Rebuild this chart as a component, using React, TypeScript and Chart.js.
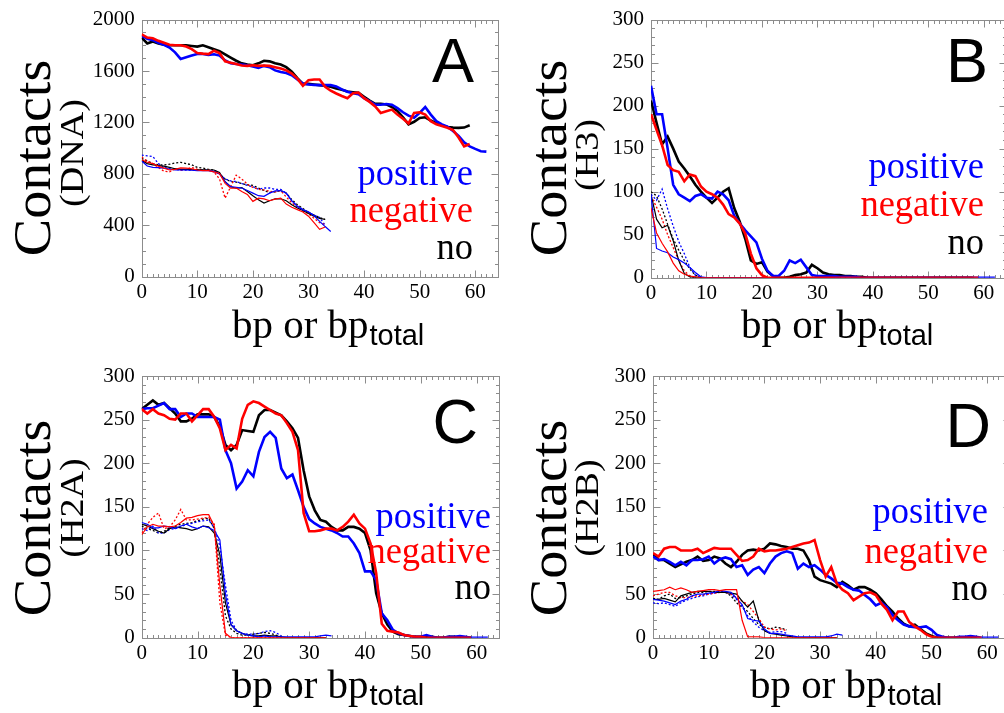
import React, { useEffect, useRef } from "react";
import { Chart, registerables } from "chart.js";

Chart.register(...registerables);

// ---------- tick labels / texts ----------
const BP_TICKS = [0, 10, 20, 30, 40, 50, 60];
const DNA_TICKS = [0, 400, 800, 1200, 1600, 2000];
const HISTONE_TICKS = [0, 50, 100, 150, 200, 250, 300];
const LEGEND_LABELS = ["positive", "negative", "no"];
const PANEL_LETTERS = ["A", "B", "C", "D"];
const Y_SUBTITLES = ["(DNA)", "(H3)", "(H2A)", "(H2B)"];
const Y_TITLE = "Contacts";
const X_TITLE = "bp or bp";
const X_TITLE_SUB = "total";

// ---------- Panel A (DNA) ----------
const A_BLACK = [1860,1815,1830,1815,1805,1800,1800,1800,1800,1795,1790,1800,1785,1770,1755,1730,1705,1680,1660,1650,1645,1660,1680,1675,1660,1650,1630,1595,1545,1500,1500,1495,1490,1485,1478,1465,1455,1440,1435,1430,1400,1370,1345,1345,1340,1320,1290,1240,1185,1205,1235,1240,1215,1195,1178,1165,1160,1158,1160,1178];
const A_RED = [1885,1860,1855,1835,1820,1805,1800,1800,1790,1770,1740,1735,1732,1758,1740,1676,1665,1655,1643,1640,1645,1640,1643,1640,1630,1620,1605,1580,1541,1485,1529,1534,1534,1478,1447,1425,1406,1389,1427,1432,1389,1360,1325,1274,1287,1300,1261,1228,1192,1274,1279,1261,1210,1185,1172,1159,1141,1083,1014,1032];
const A_BLUE = [1873,1850,1840,1820,1804,1783,1745,1694,1707,1720,1732,1732,1725,1730,1720,1682,1661,1655,1651,1645,1636,1625,1640,1630,1605,1592,1585,1567,1534,1503,1495,1492,1490,1490,1490,1480,1457,1439,1427,1420,1389,1363,1338,1338,1343,1338,1312,1279,1253,1236,1274,1320,1261,1210,1185,1167,1134,1096,1045,1014,994,976,973];
const A_BLACK_THIN = [904,880,870,865,860,850,840,835,835,833,832,832,830,830,810,739,700,688,693,662,629,599,573,591,606,606,591,560,535,515,492,471,453,446];
const A_RED_THIN = [910,890,880,860,845,830,835,846,845,840,830,825,825,815,803,726,688,690,662,640,586,611,605,591,604,611,565,540,522,504,471,420,369,387];
const A_BLUE_THIN = [900,861,850,848,845,838,830,830,830,828,825,825,825,820,800,740,700,695,690,670,650,630,625,650,667,670,650,590,545,520,505,475,430,390,352];
const A_BLACK_DOT = [920,900,880,870,870,875,885,890,880,870,850,845,835,830,800,760,740,735,725,715,710,690,670,655,660,670,650,600,560,530,500,480,460,445];
const A_RED_DOT = [930,900,880,850,820,815,840,830,835,850,835,830,830,815,760,611,700,790,760,720,695,680,675,665,660,670,620,575,540,510,490,455,420,405];
const A_BLUE_DOT = [945,940,935,880,850,840,835,830,830,830,830,830,830,815,800,760,745,740,725,710,700,680,690,690,680,680,650,590,550,525,500,480,460,400];

// ---------- Panel B (H3) ----------
const B_BLACK = [206,180,155,164,150,135,127,118,108,100,93,87,93,100,104,81,65,45,20,16,18,7,2,0,0,1,3,4,6,15,11,6,4,3,3,2,2,1,1,0,0,0,0,0,0,0,0,0,0,0,0,0,0,0,0,0,0,0,0];
const B_RED = [190,172,154,131,125,123,112,120,118,106,100,97,93,85,74,70,63,51,28,11,3,0,0,0,0,0,0,0,0,0,0,0,0,0,0,0,0,0,0,0,0,0,0,0,0,0,0,0,0,0,0,0,0,0,0,0,0,0,0,0];
const B_BLUE = [223,190,190,150,108,97,93,89,95,97,93,92,100,97,90,72,63,55,48,41,22,8,2,2,8,20,17,21,12,3,2,2,2,2,1,1,1,1,0,0,0,0,0,0,0,0,0,0,0,0,0,0,0,0,0,0,0,0,0,0,0,0,0];
const B_BLACK_THIN = [97,68,58,61,43,20,5,1,0,0,0,0,0,0,0,0,0,0,0,0,0,0,0,0,0,0,0,0,0,0,0,0,0,0];
const B_RED_THIN = [81,52,40,30,17,8,4,2,1,0,0,0,0,0,0,0,0,0,0,0,0,0,0,0,0,0,0,0,0,0,0,0,0,0];
const B_BLUE_THIN = [97,34,31,29,24,21,17,12,6,1,0,0,0,0,0,0,0,0,0,0,0,0,0,0,0,0,0,0,0,0,0,0,0,0,0];
const B_BLACK_DOT = [100,95,80,62,45,32,20,10,3,0];
const B_RED_DOT = [95,82,68,50,35,20,8,2,0];
const B_BLUE_DOT = [97,90,103,80,60,42,28,12,3,0];

// ---------- Panel C (H2A) ----------
const C_BLACK = [262,267,272,267,269,263,257,248,248,251,256,256,256,253,242,221,215,221,238,237,236,255,261,261,258,255,248,240,229,192,162,146,135,133,127,123,123,127,127,125,120,100,51,28,15,7,4,3,2,1,1,1,1,0,0,1,1,0,0,0];
const C_RED = [262,257,262,257,255,251,250,257,257,248,255,262,262,253,240,215,221,217,251,267,271,269,265,261,257,255,246,236,215,143,122,122,123,125,125,123,127,133,141,131,125,108,74,16,8,7,6,3,2,1,1,0,0,0,0,0,0,0,0,0];
const C_BLUE = [262,263,263,266,269,262,262,253,257,257,253,253,253,253,250,215,200,171,179,192,185,213,230,236,229,194,183,187,169,150,136,131,127,125,123,120,116,116,108,97,76,76,66,28,20,9,5,3,2,1,1,3,1,0,0,1,1,2,1,0,0,0,0];
const C_BLACK_THIN = [130,128,125,122,120,125,127,126,125,123,125,128,127,120,95,40,15,8,5,3,2,2,3,2,2,1,0,0,0,0,0,0,0,0];
const C_RED_THIN = [118,127,130,128,128,127,128,132,137,138,140,141,141,128,60,5,0,0,0,0,0,0,0,0,0,0,0,0,0,0,0,0,0,0];
const C_BLUE_THIN = [132,130,126,126,128,127,125,128,130,127,125,128,126,123,112,50,15,8,5,3,2,1,2,1,1,1,1,1,1,1,1,1,2,3,2];
const C_BLACK_DOT = [128,125,123,120,122,126,128,130,131,132,134,136,137,125,80,25,10,5,3,3,4,5,6,5,3,1];
const C_RED_DOT = [120,130,138,143,125,127,135,147,135,135,136,137,138,130,40,3,0,0,0,0,0,0,0,0,0,0];
const C_BLUE_DOT = [125,123,128,120,120,124,125,127,130,131,133,134,135,126,105,60,20,8,5,4,4,5,7,8,6,2];

// ---------- Panel D (H2B) ----------
const D_BLACK = [96,89,89,85,81,84,87,89,93,88,89,93,91,85,81,87,95,100,101,100,102,108,107,105,104,102,102,100,89,70,66,64,62,58,64,60,55,58,58,55,51,44,36,30,22,16,13,15,10,5,2,0,0,0,0,0,0,0,0];
const D_RED = [97,93,102,104,104,100,100,100,102,97,100,103,102,102,102,95,88,89,93,102,99,100,100,101,102,104,106,108,109,112,89,70,81,62,55,51,43,47,51,52,49,39,32,20,30,30,18,13,9,4,1,0,0,0,0,0,0,0,0,0];
const D_BLUE = [93,89,90,87,83,87,83,89,89,90,93,85,90,92,90,81,83,72,78,81,74,85,93,97,99,97,79,85,81,83,78,72,68,63,62,58,55,54,49,44,37,40,35,26,20,15,13,12,12,13,9,3,1,0,0,1,1,2,1,0,0,0,0];
const D_BLACK_THIN = [44,44,45,43,41,48,50,52,53,53,53,52,52,52,51,50,42,35,42,20,8,5,4,3,2,1,0,0,0,0,0,0,0,0];
const D_RED_THIN = [53,54,55,58,55,57,55,52,53,54,55,55,54,55,55,55,20,1,1,1,0,0,0,0,0,0,0,0,0,0,0,0,0,0];
const D_BLUE_THIN = [44,43,42,40,38,42,44,48,50,50,51,52,54,53,52,45,38,22,20,19,10,5,5,4,3,2,1,1,1,1,1,1,2,4,3];
const D_BLACK_DOT = [45,44,48,50,45,46,48,50,52,52,53,53,53,52,48,40,35,30,22,15,12,10,12,11,9];
const D_RED_DOT = [48,50,52,52,48,46,46,47,48,49,50,51,52,52,50,46,42,38,30,22,12,10,9,10,8];
const D_BLUE_DOT = [40,39,40,38,36,40,43,45,47,48,50,51,52,52,50,44,36,25,18,12,8,6,7,7,5];

// ---------- styles / layout ----------
const BLUE = "#0000ff";
const RED = "#ff0000";
const BLACK = "#000000";
const FRAME = "#8c8c8c";
const SERIF = '"Liberation Serif", "Times New Roman", serif';
const SANS = '"Liberation Sans", Arial, sans-serif';
const X_MAX = 64;

type Box = { x: number; y: number; w: number; h: number };
type Layout = {
  canvas: Box;
  area: { l: number; t: number; r: number; b: number };
  yMax: number;
  yMinor: number;
  yMajor: number;
  letter: { x: number; y: number };
  ylab: { x: number; y: number };
  sub: { x: number; y: number };
  xlab: { x: number; y: number };
  legend: { x: number; y: number[] };
};

const LAYOUTS: Layout[] = [
  {
    canvas: { x: 0, y: 0, w: 502, h: 356 },
    area: { l: 141.7, t: 15, r: 497.5, b: 276.7 },
    yMax: 2000, yMinor: 100, yMajor: 400,
    letter: { x: 474, y: 82 }, ylab: { x: 50, y: 158 }, sub: { x: 83, y: 153 },
    xlab: { x: 232, y: 338 }, legend: { x: 473, y: [185, 222, 259] },
  },
  {
    canvas: { x: 502, y: 0, w: 512, h: 356 },
    area: { l: 651, t: 16, r: 1006, b: 277.7 },
    yMax: 300, yMinor: 10, yMajor: 50,
    letter: { x: 988, y: 82 }, ylab: { x: 566, y: 158 }, sub: { x: 598, y: 155 },
    xlab: { x: 741, y: 338 }, legend: { x: 984, y: [178, 216, 254] },
  },
  {
    canvas: { x: 0, y: 356, w: 502, h: 357 },
    area: { l: 141.7, t: 376, r: 499, b: 637.7 },
    yMax: 300, yMinor: 10, yMajor: 50,
    letter: { x: 478, y: 443 }, ylab: { x: 50, y: 518 }, sub: { x: 83, y: 508 },
    xlab: { x: 232, y: 698 }, legend: { x: 491, y: [528, 563, 599] },
  },
  {
    canvas: { x: 502, y: 356, w: 512, h: 357 },
    area: { l: 653, t: 376, r: 1009.5, b: 637.7 },
    yMax: 300, yMinor: 10, yMajor: 50,
    letter: { x: 991, y: 447 }, ylab: { x: 566, y: 518 }, sub: { x: 598, y: 508 },
    xlab: { x: 750, y: 698 }, legend: { x: 988, y: [523, 563, 600] },
  },
];

const PANEL_DATA = [
  { thick: [A_RED, A_BLUE, A_BLACK], thin: [A_RED_THIN, A_BLUE_THIN, A_BLACK_THIN], dot: [A_RED_DOT, A_BLUE_DOT, A_BLACK_DOT], yTicks: DNA_TICKS },
  { thick: [B_RED, B_BLUE, B_BLACK], thin: [B_RED_THIN, B_BLUE_THIN, B_BLACK_THIN], dot: [B_RED_DOT, B_BLUE_DOT, B_BLACK_DOT], yTicks: HISTONE_TICKS },
  { thick: [C_RED, C_BLUE, C_BLACK], thin: [C_RED_THIN, C_BLUE_THIN, C_BLACK_THIN], dot: [C_RED_DOT, C_BLUE_DOT, C_BLACK_DOT], yTicks: HISTONE_TICKS },
  { thick: [D_RED, D_BLUE, D_BLACK], thin: [D_RED_THIN, D_BLUE_THIN, D_BLACK_THIN], dot: [D_RED_DOT, D_BLUE_DOT, D_BLACK_DOT], yTicks: HISTONE_TICKS },
];

const COLORS = [RED, BLUE, BLACK];
const LEGEND_COLORS = [BLUE, RED, BLACK];

function pts(arr: number[]) {
  return arr.map((v, i) => ({ x: i, y: v }));
}

function drawText(ctx: CanvasRenderingContext2D, s: string, x: number, y: number, font: string, color: string, align: CanvasTextAlign, rot: number, sx: number) {
  ctx.save();
  ctx.translate(x, y);
  if (rot) ctx.rotate(rot);
  ctx.scale(sx, 1);
  ctx.font = font;
  ctx.fillStyle = color;
  ctx.textAlign = align;
  ctx.textBaseline = "alphabetic";
  ctx.fillText(s, 0, 0);
  ctx.restore();
}

const decoPlugin = {
  id: "deco",
  beforeDatasetsDraw(chart: any) {
    const lay: Layout = chart.options.plugins.deco.layout;
    const ctx: CanvasRenderingContext2D = chart.ctx;
    const { left, right, top, bottom } = chart.chartArea;
    const xs = chart.scales.x;
    const ys = chart.scales.y;
    ctx.save();
    ctx.strokeStyle = FRAME;
    ctx.lineWidth = 1;
    const L = Math.round(left) + 0.5, R = Math.round(right) + 0.5, T = Math.round(top) + 0.5, B = Math.round(bottom) + 0.5;
    ctx.strokeRect(L, T, R - L, B - T);
    ctx.beginPath();
    for (let v = 0; v <= X_MAX; v += 1) {
      const px = Math.round(xs.getPixelForValue(v)) + 0.5;
      const len = v % 10 === 0 ? 7 : 3.5;
      ctx.moveTo(px, B); ctx.lineTo(px, B - len);
      ctx.moveTo(px, T); ctx.lineTo(px, T + len);
    }
    for (let v = 0; v <= lay.yMax; v += lay.yMinor) {
      const py = Math.round(ys.getPixelForValue(v)) + 0.5;
      const len = v % lay.yMajor === 0 ? 7 : 3.5;
      ctx.moveTo(L, py); ctx.lineTo(L + len, py);
      ctx.moveTo(R, py); ctx.lineTo(R - len, py);
    }
    ctx.stroke();
    ctx.restore();
  },
  afterDraw(chart: any) {
    const lay: Layout = chart.options.plugins.deco.layout;
    const idx: number = chart.options.plugins.deco.index;
    const ctx: CanvasRenderingContext2D = chart.ctx;
    const ox = lay.canvas.x, oy = lay.canvas.y;
    drawText(ctx, PANEL_LETTERS[idx], lay.letter.x - ox, lay.letter.y - oy, `63px ${SANS}`, BLACK, "right", 0, 1);
    LEGEND_LABELS.forEach((s, i) => {
      drawText(ctx, s, lay.legend.x - ox, lay.legend.y[i] - oy, `38px ${SERIF}`, LEGEND_COLORS[i], "right", 0, 0.96);
    });
    drawText(ctx, Y_TITLE, lay.ylab.x - ox, lay.ylab.y - oy, `52px ${SERIF}`, BLACK, "center", -Math.PI / 2, 1.08);
    drawText(ctx, Y_SUBTITLES[idx], lay.sub.x - ox, lay.sub.y - oy, `34px ${SERIF}`, BLACK, "center", -Math.PI / 2, 1.12);
    const xsx = 1.05;
    ctx.save();
    ctx.font = `39px ${SERIF}`;
    const w = ctx.measureText(X_TITLE).width * xsx;
    ctx.restore();
    drawText(ctx, X_TITLE, lay.xlab.x - ox, lay.xlab.y - oy, `39px ${SERIF}`, BLACK, "left", 0, xsx);
    drawText(ctx, X_TITLE_SUB, lay.xlab.x - ox + w + 1, lay.xlab.y - oy + 7, `29px ${SANS}`, BLACK, "left", 0, 1.0);
  },
};

function buildConfig(idx: number): any {
  const lay = LAYOUTS[idx];
  const pd = PANEL_DATA[idx];
  const datasets: any[] = [];
  pd.thick.forEach((arr, i) => {
    datasets.push({ data: pts(arr), borderColor: COLORS[i], borderWidth: 2.6, order: i, pointRadius: 0, fill: false, tension: 0 });
  });
  pd.thin.forEach((arr, i) => {
    datasets.push({ data: pts(arr), borderColor: COLORS[i], borderWidth: 1.2, order: 3 + i, pointRadius: 0, fill: false, tension: 0 });
  });
  pd.dot.forEach((arr, i) => {
    datasets.push({ data: pts(arr), borderColor: COLORS[i], borderWidth: 1.3, borderDash: [2, 2], order: 6 + i, pointRadius: 0, fill: false, tension: 0 });
  });
  const tickFont = { family: SERIF, size: 21 };
  const plain = (v: any) => String(v);
  return {
    type: "line",
    data: { datasets },
    options: {
      animation: false,
      responsive: false,
      maintainAspectRatio: false,
      events: [],
      layout: {
        padding: {
          top: lay.area.t - lay.canvas.y,
          right: lay.canvas.x + lay.canvas.w - lay.area.r,
          left: 0,
          bottom: 0,
        },
      },
      plugins: {
        legend: { display: false },
        tooltip: { enabled: false },
        deco: { layout: lay, index: idx },
      },
      scales: {
        x: {
          type: "linear",
          min: 0,
          max: X_MAX,
          grid: { display: false, drawTicks: false },
          border: { display: false },
          ticks: { font: tickFont, color: BLACK, padding: 3, maxRotation: 0, autoSkip: false, callback: plain },
          afterBuildTicks: (s: any) => { s.ticks = BP_TICKS.map((v) => ({ value: v })); },
          afterFit: (s: any) => { s.height = lay.canvas.y + lay.canvas.h - lay.area.b; },
        },
        y: {
          type: "linear",
          min: 0,
          max: lay.yMax,
          grid: { display: false, drawTicks: false },
          border: { display: false },
          ticks: { font: tickFont, color: BLACK, padding: 7, autoSkip: false, callback: plain },
          afterBuildTicks: (s: any) => { s.ticks = pd.yTicks.map((v) => ({ value: v })); },
          afterFit: (s: any) => { s.width = lay.area.l - lay.canvas.x; },
        },
      },
    },
    plugins: [decoPlugin],
  };
}

function Panel({ idx }: { idx: number }) {
  const ref = useRef<HTMLCanvasElement>(null);
  const lay = LAYOUTS[idx];
  useEffect(() => {
    const chart = new Chart(ref.current as HTMLCanvasElement, buildConfig(idx));
    return () => chart.destroy();
  }, [idx]);
  return (
    <canvas
      ref={ref}
      width={lay.canvas.w}
      height={lay.canvas.h}
      style={{ position: "absolute", left: lay.canvas.x, top: lay.canvas.y, width: lay.canvas.w, height: lay.canvas.h }}
    />
  );
}

export default function App() {
  return (
    <div style={{ position: "absolute", left: 0, top: 0, width: 1004, height: 713, overflow: "hidden", background: "#ffffff" }}>
      {[0, 1, 2, 3].map((i) => (
        <Panel key={i} idx={i} />
      ))}
    </div>
  );
}
